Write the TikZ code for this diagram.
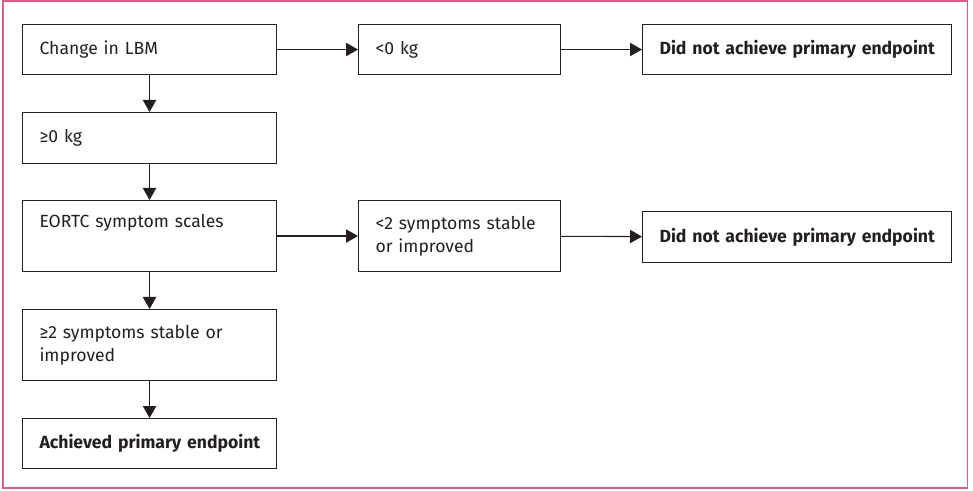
\documentclass[tikz,border=0pt]{standalone}
\usepackage{fontspec}
\setmainfont{Fira Sans}
\usetikzlibrary{arrows.meta}
\definecolor{frame}{RGB}{214,96,138}
\definecolor{ink}{RGB}{35,31,32}
\tikzset{
  box/.style={draw=ink, line width=0.8pt, anchor=north west, align=left,
    inner xsep=12.75pt, inner ysep=0pt, text=ink,
    font=\fontsize{13.2}{17.6}\selectfont},
  arr/.style={draw=ink, line width=0.8pt, -{Triangle[length=9pt,width=10pt]}}
}
\begin{document}
\begin{tikzpicture}[x=0.75pt,y=-0.75pt]
\useasboundingbox (0,0) rectangle (973,491);
\draw[frame,line width=1.2pt] (3,0.8) rectangle (967.5,488);
% left column
\node[box,text width=165pt,minimum height=37.5pt] (lbm) at (22,24) {Change in LBM};
\node[box,text width=165pt,minimum height=38.25pt] (gezero) at (22,112) {≥0 kg};
\node[box,text width=165pt,minimum height=53.25pt] (eortc) at (22,200) {EORTC symptom scales\\\strut};
\node[box,text width=165pt,minimum height=53.25pt] (getwo) at (22,309) {≥2 symptoms stable or\\improved};
\node[box,text width=165pt,minimum height=37.5pt] (achieved) at (22,418) {\mbox{\textbf{Achieved primary endpoint}}};
% middle and right
\node[box,text width=126pt,minimum height=37.5pt] (ltzero) at (358,24) {<0 kg};
\node[box,text width=126pt,minimum height=53.25pt] (lttwo) at (358,200) {<2 symptoms stable\\or improved};
\node[box,text width=206.25pt,minimum height=37.5pt] (failA) at (642,24) {\mbox{\textbf{Did not achieve primary endpoint}}};
\node[box,text width=206.25pt,minimum height=38.25pt] (failB) at (642,211) {\mbox{\textbf{Did not achieve primary endpoint}}};
\foreach \a/\b in {lbm/gezero, gezero/eortc, eortc/getwo, getwo/achieved,
                   lbm/ltzero, ltzero/failA, eortc/lttwo, lttwo/failB}
  \draw[arr] (\a) -- (\b);
\end{tikzpicture}
\end{document}
